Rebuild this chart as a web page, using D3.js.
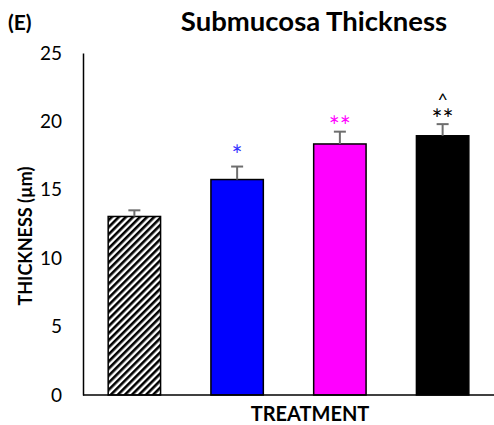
<!DOCTYPE html>
<html>
<head>
<meta charset="utf-8">
<script src="https://cdn.jsdelivr.net/npm/d3@7"></script>
<style>
body { margin: 0; background: #fff; }
text { font-family: Lato, 'Open Sans', sans-serif; }
</style>
</head>
<body>
<div id="chart"></div>
<script>
// data
var groups = ['Control', 'Group 2', 'Group 3', 'Group 4'];
var values = [13.05, 15.75, 18.35, 18.95];
var errors = [0.45, 0.95, 0.9, 0.85];
var marks = ['', '*', '**', '**'];
var marks2 = ['', '', '', '^'];
var fills = ['url(#hatch)', '#0000ff', '#ff00ff', '#000000'];
var markColors = ['#000', '#3333ff', '#ff00ff', '#000'];
var yTicks = [0, 5, 10, 15, 20, 25];

var margin = {top: 53, right: 0, bottom: 30, left: 83};
var W = 494, H = 425;
var width = W - margin.left - margin.right;
var height = H - margin.top - margin.bottom;

var svg = d3.select('#chart')
	.append('svg')
	.attr('width', W)
	.attr('height', H);

// hatch pattern for control bar
var pat = svg.append('defs')
	.append('pattern')
	.attr('id', 'hatch')
	.attr('patternUnits', 'userSpaceOnUse')
	.attr('width', 5)
	.attr('height', 5)
	.attr('patternTransform', 'rotate(45)');
pat.append('rect').attr('width', 5).attr('height', 5).attr('fill', '#fff');
pat.append('rect').attr('width', 2.6).attr('height', 5).attr('fill', '#000');

var g = svg.append('g')
	.attr('transform', 'translate(' + margin.left + ',' + margin.top + ')');

var x = d3.scaleBand().domain(groups).range([0, width]).paddingInner(0.49).paddingOuter(0.245);
var y = d3.scaleLinear().domain([0, 25]).range([height, 0]);

// y axis
var y_axis = d3.axisLeft(y).tickValues(yTicks).tickSize(0).tickPadding(21);
var ya = g.append('g').call(y_axis);
ya.select('.domain').attr('stroke', '#000').attr('stroke-width', 1.5);
ya.selectAll('text').style('font-size', '19px').attr('fill', '#000').attr('font-family', 'Lato, sans-serif');

// bars
g.selectAll('.bar')
	.data(groups)
	.enter()
	.append('rect')
	.attr('class', 'bar')
	.attr('x', function(d) { return x(d); })
	.attr('width', x.bandwidth())
	.attr('y', function(d, i) { return y(values[i]); })
	.attr('height', function(d, i) { return height - y(values[i]); })
	.attr('fill', function(d, i) { return fills[i]; })
	.attr('stroke', '#000')
	.attr('stroke-width', 1.5);

// error bars
var eb = g.selectAll('.err')
	.data(groups)
	.enter()
	.append('g')
	.attr('class', 'err')
	.attr('stroke', '#6e6e6e')
	.attr('stroke-width', 2);
eb.append('line')
	.attr('x1', function(d) { return x(d) + x.bandwidth() / 2; })
	.attr('x2', function(d) { return x(d) + x.bandwidth() / 2; })
	.attr('y1', function(d, i) { return y(values[i]); })
	.attr('y2', function(d, i) { return y(values[i] + errors[i]); });
eb.append('line')
	.attr('x1', function(d) { return x(d) + x.bandwidth() / 2 - 6; })
	.attr('x2', function(d) { return x(d) + x.bandwidth() / 2 + 6; })
	.attr('y1', function(d, i) { return y(values[i] + errors[i]); })
	.attr('y2', function(d, i) { return y(values[i] + errors[i]); });

// significance marks (one text per bar, ^ on a line above the stars)
var sig = g.selectAll('.sig')
	.data(groups)
	.enter()
	.append('text')
	.attr('class', 'sig')
	.attr('text-anchor', 'middle')
	.attr('fill', function(d, i) { return markColors[i]; });
sig.append('tspan')
	.attr('x', function(d) { return x(d) + x.bandwidth() / 2; })
	.attr('y', function(d, i) { return y(values[i] + errors[i]) - 18; })
	.style('font-size', '18px')
	.text(function(d, i) { return marks2[i]; });
sig.append('tspan')
	.attr('x', function(d) { return x(d) + x.bandwidth() / 2; })
	.attr('y', function(d, i) { return y(values[i] + errors[i]) + (i == 1 ? -1.5 : 4.5); })
	.style('font-size', '26px')
	.text(function(d, i) { return marks[i]; });

// x axis
g.append('line')
	.attr('x1', 0).attr('x2', width)
	.attr('y1', height).attr('y2', height)
	.attr('stroke', '#000').attr('stroke-width', 1.5);

// labels
svg.append('text')
	.attr('x', 310).attr('y', 421)
	.attr('text-anchor', 'middle')
	.style('font-size', '20px').style('font-weight', 'bold')
	.text('TREATMENT');

svg.append('text')
	.attr('transform', 'translate(32,' + 236 + ') rotate(-90)')
	.attr('text-anchor', 'middle')
	.style('font-size', '18px').style('font-weight', 'bold')
	.text('THICKNESS (µm)');

svg.append('text')
	.attr('x', 314).attr('y', 31)
	.attr('text-anchor', 'middle')
	.style('font-size', '27.5px').style('font-weight', 'bold')
	.text('Submucosa Thickness');

svg.append('text')
	.attr('x', 8).attr('y', 30)
	.style('font-size', '21px').style('font-weight', 'bold')
	.text('(E)');
</script>
</body>
</html>
